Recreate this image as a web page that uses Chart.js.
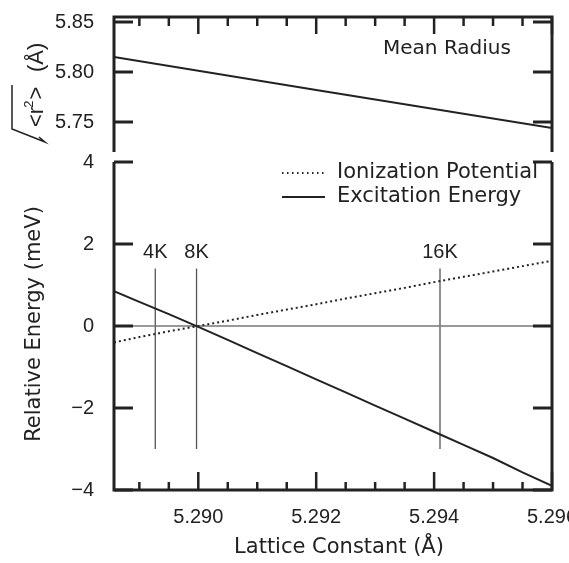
<!DOCTYPE html>
<html><head><meta charset="utf-8">
<script src="https://cdn.jsdelivr.net/npm/chart.js@4.4.1/dist/chart.umd.min.js"></script>
<style>
body{margin:0;background:#fff}
#wrap{position:relative;width:569px;height:563px;background:#fff}
canvas{position:absolute;left:0;top:0}
</style></head><body>
<div id="wrap"><canvas id="topChart" width="569" height="563"></canvas><canvas id="botChart" width="569" height="563"></canvas></div>
<script>
// ===== values =====
const latticeX   = [5.28857, 5.289, 5.2895, 5.290, 5.2905, 5.291, 5.2915, 5.292, 5.2925, 5.293, 5.2935, 5.294, 5.2945, 5.295, 5.2955, 5.296];
const ionization = [-0.40, -0.27, -0.13, 0.00, 0.13, 0.27, 0.40, 0.53, 0.67, 0.80, 0.93, 1.07, 1.20, 1.33, 1.46, 1.59];
const excitation = [0.85, 0.59, 0.29, -0.02, -0.34, -0.66, -0.98, -1.30, -1.62, -1.94, -2.26, -2.58, -2.90, -3.22, -3.57, -3.90];
const radiusX    = [5.28857, 5.292, 5.296];
const radius     = [5.815, 5.782, 5.744];
const tempLabels = ['4K', '8K', '16K'];
const tempX      = [5.28927, 5.28997, 5.2941];
const markerSpan = [1.4, -3.0];
const xTicks     = [5.289, 5.2895, 5.290, 5.2905, 5.291, 5.2915, 5.292, 5.2925, 5.293, 5.2935, 5.294, 5.2945, 5.295, 5.2955, 5.296];
const radiusTicks = [5.75, 5.80, 5.85];
const energyTicks = [-4, -2, 0, 2, 4];
const X_MIN = 5.28857, X_MAX = 5.296;

const INK = '#222';
const NUM_FONT = {family: '"Liberation Sans", Arial, sans-serif', size: 20};
const TXT = '"DejaVu Sans", sans-serif';

function isMajor(v){ const k = Math.round(v*2000); return Math.abs(v*2000-k) < 1e-6 && k % 4 === 0; }
function seg(ctx, x1, y1, x2, y2){ ctx.beginPath(); ctx.moveTo(x1,y1); ctx.lineTo(x2,y2); ctx.stroke(); }
function fixY(width){ return s => { s.width = width; s.paddingTop = 0; s.paddingBottom = 0; }; }

// ---------- top panel: mean radius ----------
const topDeco = {
  id: 'topDeco',
  afterDraw(chart){
    const {ctx, chartArea: a, scales: {x, y}} = chart;
    ctx.save();
    ctx.strokeStyle = INK; ctx.fillStyle = INK; ctx.lineJoin = 'miter';
    ctx.lineWidth = 3;
    ctx.beginPath();
    ctx.moveTo(a.left, a.bottom); ctx.lineTo(a.left, a.top); ctx.lineTo(a.right, a.top); ctx.lineTo(a.right, a.bottom);
    ctx.stroke();
    ctx.lineWidth = 2.5;
    xTicks.forEach(v => { const px = x.getPixelForValue(v); seg(ctx, px, a.top, px, a.top + (isMajor(v) ? 17 : 9)); });
    ctx.lineWidth = 3;
    radiusTicks.forEach(v => { const py = y.getPixelForValue(v); seg(ctx, a.left, py, a.left+19, py); seg(ctx, a.right, py, a.right-19, py); });

    ctx.font = '20px ' + TXT; ctx.textAlign = 'center'; ctx.textBaseline = 'middle';
    ctx.fillText('Mean Radius', 447, 49);

    // y title: sqrt(<r^2>) (Å), rotated
    ctx.save();
    ctx.translate(43, 127); ctx.rotate(-Math.PI/2);
    ctx.textAlign = 'left'; ctx.textBaseline = 'alphabetic';
    ctx.font = '22px ' + NUM_FONT.family;
    let u = 0;
    ctx.fillText('<r', u, 0); u += ctx.measureText('<r').width;
    ctx.font = '13px ' + NUM_FONT.family;
    ctx.fillText('2', u - 1, -10); u += ctx.measureText('2').width;
    ctx.font = '22px ' + NUM_FONT.family;
    ctx.fillText('>', u, 0);
    ctx.fillText('(Å)', 55, 0);
    ctx.restore();
    ctx.lineWidth = 1.5;
    ctx.beginPath();
    ctx.moveTo(39, 137); ctx.lineTo(45, 142); ctx.lineTo(12, 129); ctx.lineTo(12, 85);
    ctx.stroke();
    ctx.restore();
  }
};

new Chart(document.getElementById('topChart'), {
  type: 'line',
  data: { datasets: [{
    label: 'Mean Radius',
    data: radiusX.map((v, i) => ({x: v, y: radius[i]})),
    borderColor: INK, borderWidth: 2, pointRadius: 0, tension: 0
  }]},
  options: {
    responsive: false, animation: false, devicePixelRatio: 1,
    layout: {padding: {top: 17, bottom: 411, right: 17, left: 0}},
    plugins: {legend: {display: false}, tooltip: {enabled: false}},
    scales: {
      x: {type: 'linear', min: X_MIN, max: X_MAX, display: false},
      y: {
        min: 5.72, max: 5.855,
        afterBuildTicks: s => { s.ticks = radiusTicks.map(v => ({value: v})); },
        afterFit: fixY(114),
        grid: {display: false}, border: {display: false},
        ticks: {padding: 12, color: INK, font: NUM_FONT, callback: v => v.toFixed(2)}
      }
    }
  },
  plugins: [topDeco]
});

// ---------- bottom panel: energies ----------
const botDeco = {
  id: 'botDeco',
  afterDraw(chart){
    const {ctx, chartArea: a, scales: {x, y}} = chart;
    ctx.save();
    ctx.strokeStyle = INK; ctx.fillStyle = INK; ctx.lineJoin = 'miter';
    ctx.lineWidth = 3;
    ctx.beginPath();
    ctx.moveTo(a.left, a.top); ctx.lineTo(a.left, a.bottom); ctx.lineTo(a.right, a.bottom); ctx.lineTo(a.right, a.top);
    ctx.stroke();
    ctx.lineWidth = 2.5;
    xTicks.forEach(v => { const px = x.getPixelForValue(v); seg(ctx, px, a.bottom, px, a.bottom - (isMajor(v) ? 18 : 8)); });
    ctx.lineWidth = 3;
    energyTicks.forEach(v => { const py = y.getPixelForValue(v); seg(ctx, a.left, py, a.left+19, py); seg(ctx, a.right, py, a.right-19, py); });

    // temperature labels
    ctx.font = '20px ' + NUM_FONT.family; ctx.textAlign = 'center'; ctx.textBaseline = 'alphabetic';
    tempX.forEach((v, i) => ctx.fillText(tempLabels[i], x.getPixelForValue(v), 258));

    // legend
    const ds = chart.data.datasets;
    ctx.font = '21px ' + TXT; ctx.textAlign = 'left'; ctx.textBaseline = 'middle';
    ctx.lineWidth = 2;
    ctx.setLineDash([1.5, 3.5]); seg(ctx, 282, 173, 325, 173);
    ctx.setLineDash([]); seg(ctx, 282, 197, 325, 197);
    ctx.fillText(ds[0].label, 337, 173);
    ctx.fillText(ds[1].label, 337, 197);

    // axis titles
    ctx.textAlign = 'center';
    ctx.fillText('Lattice Constant (Å)', 339, 548);
    ctx.save();
    ctx.translate(35, 324); ctx.rotate(-Math.PI/2);
    ctx.fillText('Relative Energy (meV)', 0, 0);
    ctx.restore();
    ctx.restore();
  }
};

const markerSets = tempX.map((v, i) => ({
  label: tempLabels[i],
  data: markerSpan.map(e => ({x: v, y: e})),
  borderColor: '#555', borderWidth: 1.3, pointRadius: 0
}));

new Chart(document.getElementById('botChart'), {
  type: 'line',
  data: { datasets: [
    { label: 'Ionization Potential', data: latticeX.map((v, i) => ({x: v, y: ionization[i]})),
      borderColor: INK, borderWidth: 2, borderDash: [2, 3], pointRadius: 0, tension: 0 },
    { label: 'Excitation Energy', data: latticeX.map((v, i) => ({x: v, y: excitation[i]})),
      borderColor: INK, borderWidth: 2, pointRadius: 0, tension: 0 },
    { label: 'zero', data: [{x: X_MIN, y: 0}, {x: X_MAX, y: 0}],
      borderColor: '#777', borderWidth: 1.5, pointRadius: 0 },
    ...markerSets
  ]},
  options: {
    responsive: false, animation: false, devicePixelRatio: 1,
    layout: {padding: {top: 162, bottom: 0, right: 17, left: 0}},
    plugins: {legend: {display: false}, tooltip: {enabled: false}},
    scales: {
      x: {
        type: 'linear', min: X_MIN, max: X_MAX,
        afterBuildTicks: s => { s.ticks = xTicks.map(v => ({value: v})); },
        afterFit: s => { s.height = 73; s.paddingLeft = 0; s.paddingRight = 0; },
        grid: {display: false}, border: {display: false},
        ticks: {padding: 7, color: INK, font: NUM_FONT, autoSkip: false, maxRotation: 0,
          callback: v => isMajor(v) ? v.toFixed(3) : ''}
      },
      y: {
        min: -4, max: 4,
        afterBuildTicks: s => { s.ticks = energyTicks.map(v => ({value: v})); },
        afterFit: fixY(114),
        grid: {display: false}, border: {display: false},
        ticks: {padding: 12, color: INK, font: NUM_FONT, callback: v => v < 0 ? '\u2212' + Math.abs(v) : String(v)}
      }
    }
  },
  plugins: [botDeco]
});
</script>
</body></html>
